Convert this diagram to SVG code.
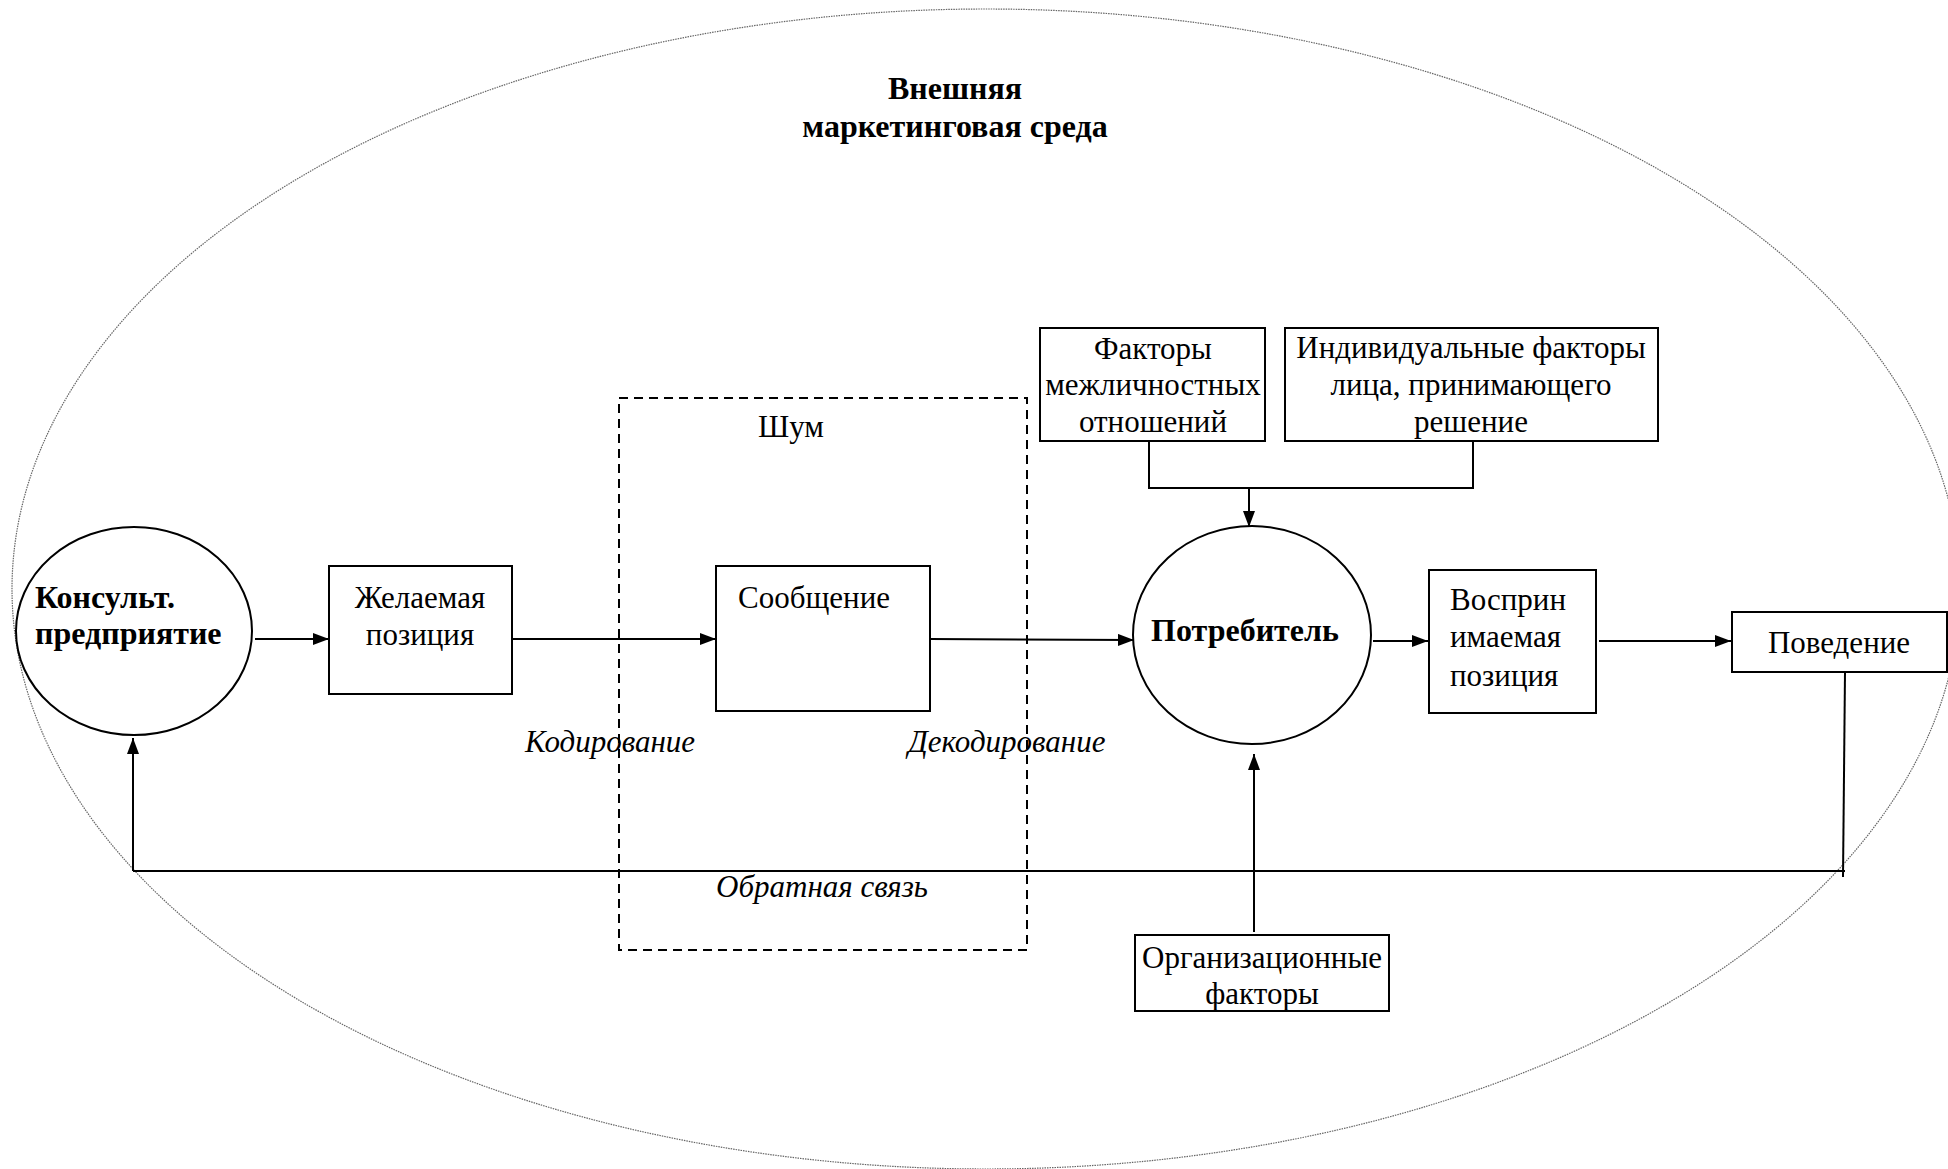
<svg xmlns="http://www.w3.org/2000/svg" width="1948" height="1169" viewBox="0 0 1948 1169">
<defs>
<marker id="ah" viewBox="0 0 16 12" refX="16" refY="6" markerWidth="16" markerHeight="12" markerUnits="userSpaceOnUse" orient="auto">
<path d="M0,0 L16,6 L0,12 Z" fill="#000"/>
</marker>
</defs>
<style>
text{font-family:"Liberation Serif","Times New Roman",serif;font-size:31px;fill:#000}
.b{font-weight:bold;font-size:32px}
.i{font-style:italic}
.c{text-anchor:middle}
.box{fill:#fff;stroke:#000;stroke-width:2}
.ln{fill:none;stroke:#000;stroke-width:2}
.arr{fill:none;stroke:#000;stroke-width:2;marker-end:url(#ah)}
</style>
<rect width="1948" height="1169" fill="#fff"/>
<g id="environment">
<ellipse cx="986" cy="589" rx="974" ry="580" fill="none" stroke="#666" stroke-width="1.2" stroke-dasharray="1.5,1"/>
<text class="b c" x="955" y="99">Внешняя</text>
<text class="b c" x="955" y="137">маркетинговая среда</text>
</g>
<g id="noise">
<rect x="619" y="398" width="408" height="552" fill="none" stroke="#000" stroke-width="2" stroke-dasharray="9,6"/>
<text class="c" x="791" y="437">Шум</text>
</g>
<g id="consult">
<ellipse cx="134" cy="631" rx="118" ry="104" class="box"/>
<text class="b" x="35" y="608">Консульт.</text>
<text class="b" x="35" y="644">предприятие</text>
</g>
<g id="desired">
<rect x="329" y="566" width="183" height="128" class="box"/>
<text class="c" x="420" y="608">Желаемая</text>
<text class="c" x="420" y="645">позиция</text>
</g>
<g id="message">
<rect x="716" y="566" width="214" height="145" class="box"/>
<text class="c" x="814" y="608">Сообщение</text>
</g>
<g id="consumer">
<ellipse cx="1252" cy="635" rx="119" ry="109" class="box"/>
<text class="b c" x="1245" y="641">Потребитель</text>
</g>
<g id="perceived">
<rect x="1429" y="570" width="167" height="143" class="box"/>
<text x="1450" y="610">Восприн</text>
<text x="1450" y="647">имаемая</text>
<text x="1450" y="686">позиция</text>
</g>
<g id="behavior">
<rect x="1732" y="612" width="215" height="60" class="box"/>
<text class="c" x="1839" y="653">Поведение</text>
</g>
<g id="interpersonal">
<rect x="1040" y="328" width="225" height="113" class="box"/>
<text class="c" x="1153" y="359">Факторы</text>
<text class="c" x="1153" y="395">межличностных</text>
<text class="c" x="1153" y="432">отношений</text>
</g>
<g id="individual">
<rect x="1285" y="328" width="373" height="113" class="box"/>
<text class="c" x="1471" y="358">Индивидуальные факторы</text>
<text class="c" x="1471" y="395">лица, принимающего</text>
<text class="c" x="1471" y="432">решение</text>
</g>
<g id="organizational">
<rect x="1135" y="935" width="254" height="76" class="box"/>
<text class="c" x="1262" y="968">Организационные</text>
<text class="c" x="1262" y="1004">факторы</text>
</g>
<g id="connectors">
<line class="arr" x1="255" y1="639" x2="329" y2="639"/>
<line class="arr" x1="512" y1="639" x2="716" y2="639"/>
<line class="arr" x1="930" y1="639" x2="1134" y2="640"/>
<line class="arr" x1="1373" y1="641" x2="1428" y2="641"/>
<line class="arr" x1="1599" y1="641" x2="1731" y2="641"/>
<polyline class="ln" points="1149,441 1149,488 1473,488 1473,441"/>
<line class="arr" x1="1249" y1="488" x2="1249" y2="527"/>
<line class="arr" x1="1254" y1="932" x2="1254" y2="754"/>
<line class="ln" x1="1845" y1="672" x2="1843" y2="877"/>
<line class="ln" x1="133" y1="871" x2="1845" y2="871"/>
<line class="arr" x1="133" y1="871" x2="133" y2="738"/>
<text class="i" x="525" y="752">Кодирование</text>
<text class="i" x="908" y="752">Декодирование</text>
<text class="i c" x="822" y="897">Обратная связь</text>
</g>
</svg>
